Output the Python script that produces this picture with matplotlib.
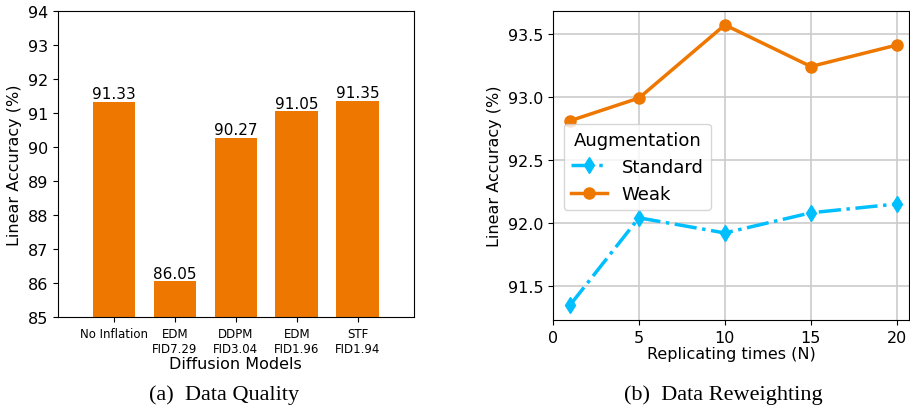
import matplotlib.pyplot as plt

# data
models = ["No Inflation", "EDM\nFID7.29", "DDPM\nFID3.04", "EDM\nFID1.96", "STF\nFID1.94"]
quality_acc = [91.33, 86.05, 90.27, 91.05, 91.35]

rep_times = [1, 5, 10, 15, 20]
standard_acc = [91.35, 92.04, 91.92, 92.08, 92.15]
weak_acc = [92.81, 92.99, 93.57, 93.24, 93.41]

orange = "#ee7700"
blue = "#00bfff"

fig = plt.figure(figsize=(9.1, 4.06), dpi=100)

# (a) data quality
ax1 = fig.add_axes([0.0637, 0.2167, 0.391, 0.754])
x = range(len(models))
bars = ax1.bar(x, quality_acc, width=0.7, color=orange)
ax1.bar_label(bars, labels=[f"{v:.2f}" for v in quality_acc], fontsize=11, padding=0.5)
ax1.set_xticks(list(x))
ax1.set_xticklabels(models, fontsize=8.5)
ax1.set_xlim(-0.92, 4.92)
ax1.set_ylim(85, 94)
ax1.set_yticks(range(85, 95))
ax1.tick_params(axis="y", labelsize=11.5)
ax1.set_xlabel("Diffusion Models", fontsize=11.5, labelpad=1)
ax1.set_ylabel("Linear Accuracy (%)", fontsize=11.5)

# (b) data reweighting
ax2 = fig.add_axes([0.6077, 0.2094, 0.391, 0.761])
ax2.plot(rep_times, standard_acc, color=blue, linestyle="-.", marker="d",
         linewidth=2.5, markersize=8, label="Standard")
ax2.plot(rep_times, weak_acc, color=orange, linestyle="-", marker="o",
         linewidth=2.5, markersize=8, label="Weak")
ax2.grid(True, color="#cccccc", linewidth=1.2)
ax2.set_xlim(0, 20.7)
ax2.set_ylim(91.23, 93.68)
ax2.set_xticks([0, 5, 10, 15, 20])
ax2.set_yticks([91.5, 92.0, 92.5, 93.0, 93.5])
ax2.tick_params(labelsize=11.5)
ax2.set_xlabel("Replicating times (N)", fontsize=11.5, labelpad=1)
ax2.set_ylabel("Linear Accuracy (%)", fontsize=11.5)
ax2.legend(title="Augmentation", fontsize=13, title_fontsize=13,
           loc="upper left", bbox_to_anchor=(0.005, 0.665))

# captions
fig.text(0.246, 0.003, "(a)  Data Quality", family="Liberation Serif",
         fontsize=16, ha="center", va="bottom")
fig.text(0.795, 0.003, "(b)  Data Reweighting", family="Liberation Serif",
         fontsize=16, ha="center", va="bottom")

plt.savefig("out.png", dpi=100)
